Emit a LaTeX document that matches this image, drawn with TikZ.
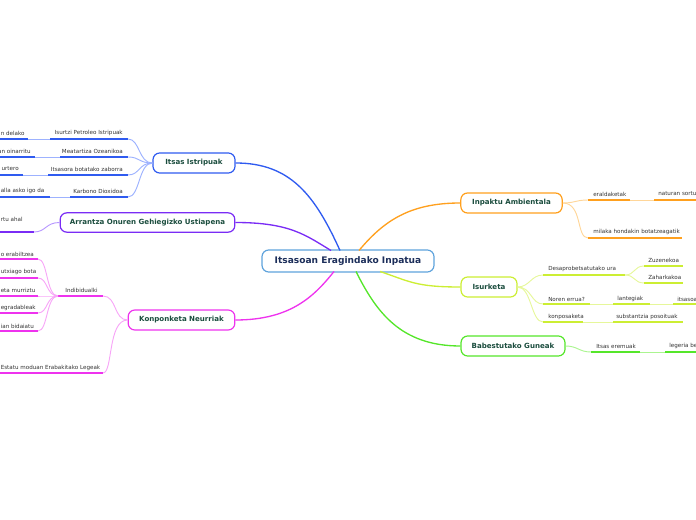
\documentclass[tikz,border=0pt]{standalone}
\usepackage{fontspec}
\setmainfont{DejaVu Sans}
\definecolor{cblue}{HTML}{2F5BF0}
\definecolor{lblue}{HTML}{9DB2FF}
\definecolor{cpurple}{HTML}{7A2CF5}
\definecolor{lpurple}{HTML}{B899FF}
\definecolor{cmag}{HTML}{EE33EE}
\definecolor{lmag}{HTML}{F7A6F7}
\definecolor{corange}{HTML}{FFA01E}
\definecolor{lorange}{HTML}{FFD699}
\definecolor{cyel}{HTML}{CCEE33}
\definecolor{lyel}{HTML}{E6F79A}
\definecolor{cgreen}{HTML}{55E62A}
\definecolor{lgreen}{HTML}{ABF590}
\definecolor{ccentral}{HTML}{5FA3DC}
\definecolor{nodetxt}{HTML}{1B4D3E}
\definecolor{centtxt}{HTML}{1C2E5A}
\definecolor{ctxt}{HTML}{333333}
\begin{document}
\begin{tikzpicture}[x=0.75pt,y=-0.75pt,
  box/.style={draw, rounded corners=5pt, fill=white, line width=0.9pt, minimum height=15pt, inner sep=0pt, font=\fontsize{5.3}{6}\selectfont\bfseries, text=nodetxt},
  ctext/.style={font=\fontsize{4.2}{5}\selectfont, text=ctxt, inner sep=0pt},
  mainline/.style={line width=1pt},
  uline/.style={line width=1.1pt},
  lline/.style={line width=0.7pt},
]
\useasboundingbox (0,0) rectangle (696,520);

% ---------- main nodes ----------
\node[box, draw=ccentral, minimum width=129pt, minimum height=16.5pt, font=\fontsize{6.8}{8}\selectfont\bfseries, text=centtxt] (cen) at (348,261) {Itsasoan Eragindako Inpatua};
\node[box, draw=cblue, minimum width=61.5pt] (istr) at (194,163) {Itsas Istripuak};
\node[box, draw=cpurple, minimum width=131pt, minimum height=14.5pt] (arr) at (147.5,222.5) {Arrantza Onuren Gehiegizko Ustiapena};
\node[box, draw=cmag, minimum width=80pt] (kon) at (181.5,320) {Konponketa Neurriak};
\node[box, draw=corange, minimum width=76pt] (inp) at (511.5,203) {Inpaktu Ambientala};
\node[box, draw=cyel, minimum width=42pt] (isu) at (489,287) {Isurketa};
\node[box, draw=cgreen, minimum width=78pt] (bab) at (513,346) {Babestutako Guneak};

% anchors on the central node
\coordinate (cB) at (340,250.5);
\coordinate (cP) at (331,250.5);
\coordinate (cM) at (334,271.5);
\coordinate (cO) at (359,250.5);
\coordinate (cY) at (380,271.5);
\coordinate (cG) at (356,271.5);

\draw[mainline, cblue] (istr.east) .. controls +(55,0) and +(-25,-55) .. (cB);
\draw[mainline, cpurple] (arr.east) .. controls +(55,0) and +(-25,-15) .. (cP);
\draw[mainline, cmag] (kon.east) .. controls +(55,0) and +(-20,25) .. (cM);
\draw[mainline, corange] (inp.west) .. controls +(-50,0) and +(25,-30) .. (cO);
\draw[mainline, cyel] (isu.west) .. controls +(-45,0) and +(30,10) .. (cY);
\draw[mainline, cgreen] (bab.west) .. controls +(-60,0) and +(20,40) .. (cG);

% ---------- Itsas Istripuak ----------
\node[ctext, anchor=east] (i1) at (123,133) {Isurtzi Petroleo Istripuak};
\node[ctext, anchor=east] (i2) at (123,151) {Meatartiza Ozeanikoa};
\node[ctext, anchor=east] (i3) at (123,169) {Itsasora botatako zaborra};
\node[ctext, anchor=east] (i4) at (123,191) {Karbono Dioxidoa};
\node[ctext, anchor=west] (i1g) at (0.5,133) {n delako};
\node[ctext, anchor=east] (i2g) at (31,151) {an oinarritu};
\node[ctext, anchor=east] (i3g) at (19,169) {urtero};
\node[ctext, anchor=west] (i4g) at (0.5,191) {alla asko igo da};
\coordinate (i1L) at (50,139);  \coordinate (i1R) at (128,139);
\coordinate (i2L) at (60,157);  \coordinate (i2R) at (128,157);
\coordinate (i3L) at (48,175);  \coordinate (i3R) at (128,175);
\coordinate (i4L) at (70,197);  \coordinate (i4R) at (128,197);
\coordinate (i1gL) at (-2,139); \coordinate (i1gR) at (28,139);
\coordinate (i2gL) at (-2,157); \coordinate (i2gR) at (35,157);
\coordinate (i3gL) at (-2,175); \coordinate (i3gR) at (23,175);
\coordinate (i4gL) at (-2,197); \coordinate (i4gR) at (50,197);
\foreach \a in {1,2,3,4}{
  \draw[lline, lblue] (istr.west) .. controls +(-14,0) and +(12,0) .. (i\a R);
  \draw[lline, lblue] (i\a gR) -- (i\a L);
  \draw[uline, cblue] (i\a L) -- (i\a R);
  \draw[uline, cblue] (i\a gL) -- (i\a gR);
}

% ---------- Arrantza ----------
\node[ctext, anchor=west] (a1) at (0.5,219) {rtu ahal};
\coordinate (a1L) at (-2,232); \coordinate (a1R) at (34,232);
\draw[lline, lpurple] (arr.west) .. controls +(-14,0) and +(12,0) .. (a1R);
\draw[uline, cpurple] (a1L) -- (a1R);

% ---------- Konponketa Neurriak ----------
\node[ctext, anchor=east] (k1) at (98,290) {Indibidualki};
\node[ctext, anchor=west] (k2) at (0.5,368) {Estatu moduan Erabakitako Legeak};
\coordinate (k1L) at (58,296); \coordinate (k1R) at (103,296);
\coordinate (k2L) at (-2,373); \coordinate (k2R) at (103,373);
\draw[lline, lmag] (kon.west) .. controls +(-14,0) and +(14,0) .. (k1R);
\draw[lline, lmag] (kon.west) .. controls +(-20,0) and +(10,0) .. (k2R);
\draw[uline, cmag] (k1L) -- (k1R);
\draw[uline, cmag] (k2L) -- (k2R);
\node[ctext, anchor=west] (kg1) at (0.5,254) {o erabiltzea};
\node[ctext, anchor=west] (kg2) at (0.5,272) {utxiago bota};
\node[ctext, anchor=west] (kg3) at (0.5,290) {eta murriztu};
\node[ctext, anchor=west] (kg4) at (0.5,308) {egradableak};
\node[ctext, anchor=west] (kg5) at (0.5,326) {ian bidaiatu};
\coordinate (kg1R) at (38,259); \coordinate (kg1L) at (-2,259);
\coordinate (kg2R) at (38,278); \coordinate (kg2L) at (-2,278);
\coordinate (kg3R) at (38,296); \coordinate (kg3L) at (-2,296);
\coordinate (kg4R) at (38,313); \coordinate (kg4L) at (-2,313);
\coordinate (kg5R) at (38,331); \coordinate (kg5L) at (-2,331);
\foreach \a in {1,...,5}{
  \draw[lline, lmag] (k1L) .. controls +(-12,0) and +(10,0) .. (kg\a R);
  \draw[uline, cmag] (kg\a L) -- (kg\a R);
}

% ---------- Inpaktu Ambientala ----------
\node[ctext, anchor=west] (o1) at (593,194) {eraldaketak};
\node[ctext, anchor=west] (o1g) at (658,194) {naturan sortu};
\node[ctext, anchor=west] (o2) at (593,232) {milaka hondakin botatzeagatik};
\coordinate (o1L) at (588,200); \coordinate (o1R) at (630,200);
\coordinate (o1gL) at (654,200); \coordinate (o1gR) at (698,200);
\coordinate (o2L) at (588,238); \coordinate (o2R) at (682,238);
\draw[lline, lorange] (inp.east) .. controls +(12,0) and +(-12,0) .. (o1L);
\draw[lline, lorange] (inp.east) .. controls +(20,0) and +(-12,0) .. (o2L);
\draw[lline, lorange] (o1R) -- (o1gL);
\draw[uline, corange] (o1L) -- (o1R);
\draw[uline, corange] (o1gL) -- (o1gR);
\draw[uline, corange] (o2L) -- (o2R);

% ---------- Isurketa ----------
\node[ctext, anchor=west] (y1) at (548,269) {Desaprobetsatutako ura};
\node[ctext, anchor=west] (y1a) at (648,260) {Zuzenekoa};
\node[ctext, anchor=west] (y1b) at (648,277) {Zaharkakoa};
\node[ctext, anchor=west] (y2) at (548,299) {Noren errua?};
\node[ctext, anchor=west] (y2a) at (617,299) {lantegiak};
\node[ctext, anchor=west] (y2b) at (677,299) {itsasoa};
\node[ctext, anchor=west] (y3) at (548,317) {konposaketa};
\node[ctext, anchor=west] (y3a) at (616,317) {substantzia posoituak};
\coordinate (y1L) at (543,275); \coordinate (y1R) at (625,275);
\coordinate (y1aL) at (644,266); \coordinate (y1aR) at (683,266);
\coordinate (y1bL) at (644,283); \coordinate (y1bR) at (683,283);
\coordinate (y2L) at (543,304); \coordinate (y2R) at (590,304);
\coordinate (y2aL) at (613,304); \coordinate (y2aR) at (650,304);
\coordinate (y2bL) at (673,304); \coordinate (y2bR) at (698,304);
\coordinate (y3L) at (543,322); \coordinate (y3R) at (583,322);
\coordinate (y3aL) at (613,322); \coordinate (y3aR) at (683,322);
\draw[lline, lyel] (isu.east) .. controls +(12,0) and +(-12,0) .. (y1L);
\draw[lline, lyel] (isu.east) .. controls +(14,0) and +(-12,0) .. (y2L);
\draw[lline, lyel] (isu.east) .. controls +(14,0) and +(-12,0) .. (y3L);
\draw[lline, lyel] (y1R) .. controls +(10,0) and +(-10,0) .. (y1aL);
\draw[lline, lyel] (y1R) .. controls +(10,0) and +(-10,0) .. (y1bL);
\draw[lline, lyel] (y2R) -- (y2aL);
\draw[lline, lyel] (y2aR) -- (y2bL);
\draw[lline, lyel] (y3R) -- (y3aL);
\foreach \a in {y1,y1a,y1b,y2,y2a,y2b,y3,y3a}{
  \draw[uline, cyel] (\a L) -- (\a R);
}

% ---------- Babestutako Guneak ----------
\node[ctext, anchor=west] (b1) at (596,346) {Itsas eremuak};
\node[ctext, anchor=west] (b1a) at (669,346) {legeria be};
\coordinate (b1L) at (591,352); \coordinate (b1R) at (640,352);
\coordinate (b1aL) at (665,352); \coordinate (b1aR) at (698,352);
\draw[lline, lgreen] (bab.east) .. controls +(12,0) and +(-12,0) .. (b1L);
\draw[lline, lgreen] (b1R) -- (b1aL);
\draw[uline, cgreen] (b1L) -- (b1R);
\draw[uline, cgreen] (b1aL) -- (b1aR);
\end{tikzpicture}
\end{document}
